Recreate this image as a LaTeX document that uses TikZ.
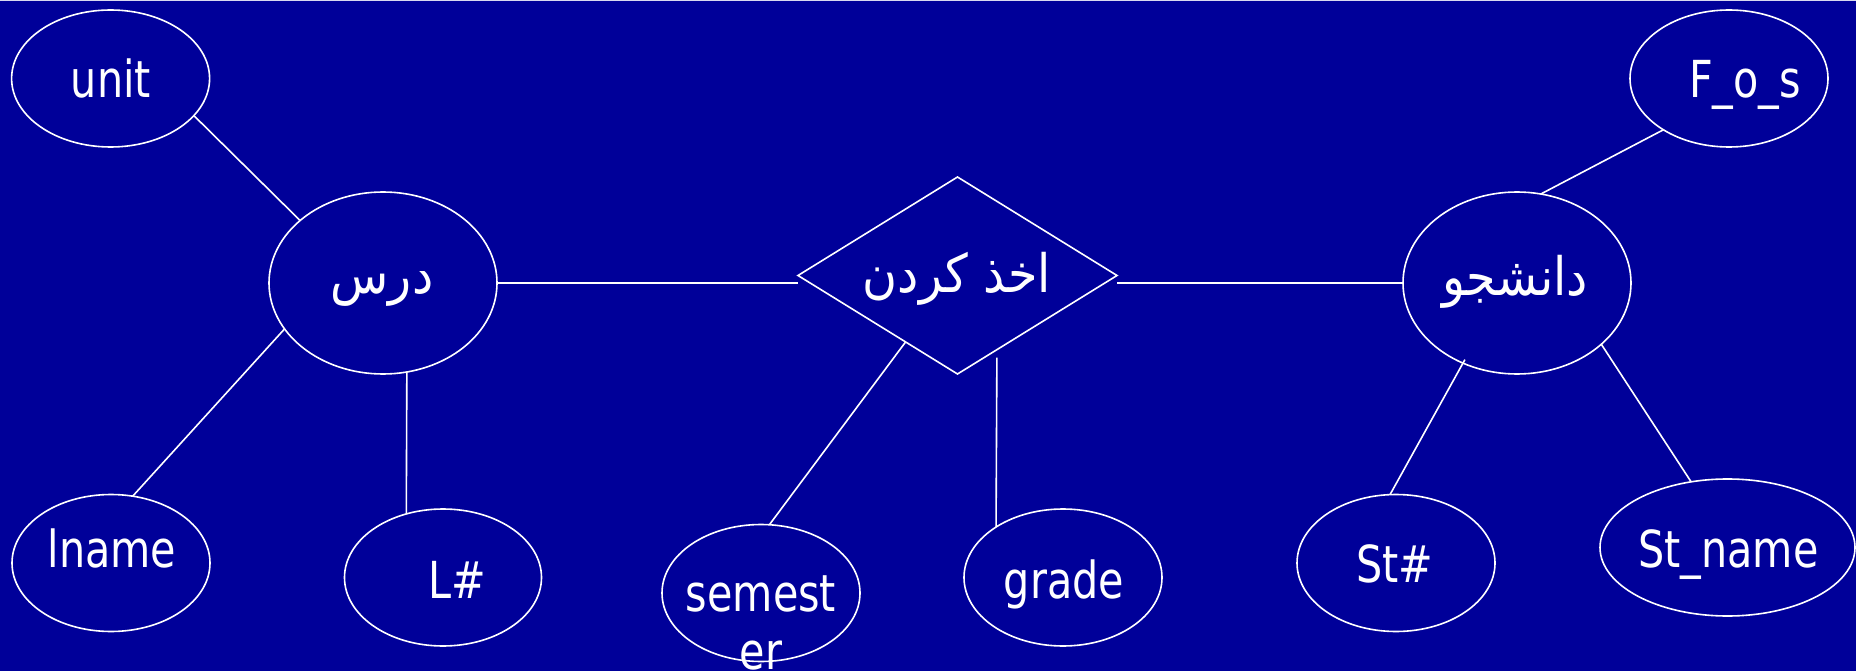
\documentclass[tikz,border=0pt]{standalone}
\usepackage{fontspec}
\setmainfont[FakeStretch=0.81]{DejaVu Sans}
\newfontfamily\arabicfont[Script=Arabic,FakeStretch=0.9]{DejaVu Sans}
\TeXXeTstate=1
\usetikzlibrary{shapes.geometric}

\definecolor{slidebg}{RGB}{0,0,153}

\tikzset{
  attr/.style={draw=white, line width=1.6pt, ellipse, inner sep=0pt, outer sep=0pt,
               minimum width=198pt, minimum height=137pt},
  entity/.style={draw=white, line width=1.6pt, ellipse, inner sep=0pt, outer sep=0pt,
                 minimum width=228pt, minimum height=182pt},
  relship/.style={draw=white, line width=1.6pt, diamond, inner sep=0pt, outer sep=0pt,
                  minimum width=319pt, minimum height=197pt},
  txt/.style={text=white, inner sep=0pt, anchor=base,
              font=\fontsize{51}{58}\selectfont},
  fatxt/.style={txt, font=\fontsize{53}{60}\selectfont\arabicfont},
  link/.style={draw=white, line width=1.6pt}
}

\begin{document}
\begin{tikzpicture}[x=1pt, y=-1pt]
  % page and background
  \useasboundingbox (0,0) rectangle (1856,671);
  \fill[slidebg] (0,0) rectangle (1856,671);
  \draw[white!85!slidebg, line width=1.5pt] (0,0.75) -- (1856,0.75);

  % entities and relationship
  \node[entity]  (course)  at (383,283)    {};
  \node[entity]  (student) at (1517,283)   {};
  \node[relship] (takes)   at (957.5,275.5) {};

  % attributes
  \node[attr] (unit)     at (110.6,78.5) {};
  \node[attr] (fos)      at (1729,78.5)  {};
  \node[attr] (lname)    at (111,563)    {};
  \node[attr, minimum width=197pt] (lnum) at (443,577.5) {};
  \node[attr] (semester) at (761,593)    {};
  \node[attr] (grade)    at (1063,577.5) {};
  \node[attr] (stnum)    at (1396,563)   {};
  \node[attr, minimum width=255pt] (stname) at (1727.5,547.5) {};

  % labels
  \node[fatxt] (course-t)  at (382,293)  {\beginR درس\endR};
  \node[fatxt] (takes-t)   at (957,292)  {\beginR اخذ کردن\endR};
  \node[fatxt] (student-t) at (1515,295) {\beginR دانشجو\endR};
  \node[txt] (unit-t)    at (111,98)   {unit};
  \node[txt] (fos-t)     at (1745,98)  {F\_o\_s};
  \node[txt] (lname-t)   at (112,567)  {lname};
  \node[txt] (lnum-t)    at (457,598)  {L\#};
  \node[txt, align=center] (semester-t) at (761,669) {semest\\er};
  \node[txt] (grade-t)   at (1064,598) {grade};
  \node[txt] (stnum-t)   at (1395,582) {St\#};
  \node[txt] (stname-t)  at (1728.5,567) {St\_name};

  % connectors
  \draw[link] (course.east) -- (takes.west |- course.east);
  \draw[link] (takes.east |- student.west) -- (student.west);
  \draw[link] (unit.-24.8) -- (course.143.7);
  \draw[link] (lname.72.3) -- (course.205.3);
  \draw[link] (course.-75.7) -- (lnum.120.4);
  \draw[link] (semester.83.4) -- (takes.232.1);
  \draw[link, shorten >=8pt] (grade.143) -- (takes.-62.7);
  \draw[link] (fos.218.2) -- (student.75.7);
  \draw[link, shorten >=-4pt] (stnum.95.8) -- (student.236.7);
  \draw[link] (stname.119.3) -- (student.-36.5);
\end{tikzpicture}
\end{document}
